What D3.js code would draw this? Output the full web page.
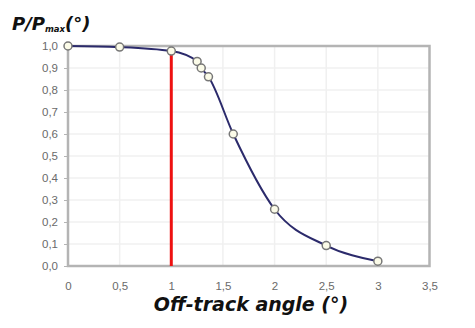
<!DOCTYPE html>
<html lang="en">
<head>
<meta charset="UTF-8">
<title>P/Pmax vs off-track angle</title>
<script src="https://d3js.org/d3.v7.min.js"></script>
<style>
    body { margin: 0; background: #fff; }
    svg { display: block; }
    .tick text { font-family: "Liberation Sans", Arial, sans-serif; font-size: 11.5px; fill: #6a6a6a; }
    .title { font-family: "DejaVu Sans", Verdana, sans-serif; font-weight: bold; font-style: italic; fill: #111; }
</style>
</head>
<body>
<svg width="475" height="328"></svg>
<script>
    var angle = [0, 0.5, 1, 1.25, 1.29, 1.36, 1.6, 2, 2.5, 3];
    var ratio = [1.0, 0.995, 0.977, 0.93, 0.90, 0.86, 0.60, 0.258, 0.093, 0.022];
    var xTicks = [0, 0.5, 1, 1.5, 2, 2.5, 3, 3.5];
    var yTicks = [0, 0.1, 0.2, 0.3, 0.4, 0.5, 0.6, 0.7, 0.8, 0.9, 1.0];
    var markAngle = 1;

    var svg = d3.select("svg");
    var x = d3.scaleLinear().domain([0, 3.5]).range([68, 429.5]);
    var y = d3.scaleLinear().domain([0, 1]).range([266, 46]);
    var fmt = function (d) { return d3.format(".1f")(d).replace(".", ","); };
    var fmtX = function (d) { return String(d).replace(".", ","); };

    // grid
    svg.append("g").selectAll("line").data(yTicks.slice(1)).enter().append("line")
        .attr("x1", x(0)).attr("x2", x(3.5))
        .attr("y1", d => y(d)).attr("y2", d => y(d))
        .attr("stroke", "#f0f0f0").attr("stroke-width", 1.5);
    svg.append("g").selectAll("line").data(xTicks.slice(1)).enter().append("line")
        .attr("x1", d => x(d)).attr("x2", d => x(d))
        .attr("y1", y(0)).attr("y2", y(1))
        .attr("stroke", "#f0f0f0").attr("stroke-width", 1.5);

    // frame
    svg.append("rect")
        .attr("x", x(0)).attr("y", y(1))
        .attr("width", x(3.5) - x(0)).attr("height", y(0) - y(1))
        .attr("fill", "none").attr("stroke", "#b4b4b4").attr("stroke-width", 2.5);

    // axes
    var yAxis = d3.axisLeft(y).tickValues(yTicks).tickFormat(fmt).tickSize(4).tickPadding(6);
    var xAxis = d3.axisBottom(x).tickValues(xTicks).tickFormat(fmtX).tickSize(0).tickPadding(16);
    var gy = svg.append("g").attr("transform", "translate(" + x(0) + ",0)").call(yAxis);
    var gx = svg.append("g").attr("transform", "translate(0," + y(0) + ")").call(xAxis);
    gy.select(".domain").remove();
    gx.select(".domain").remove();
    gy.selectAll(".tick line").attr("stroke", "#b4b4b4");

    // red marker line
    svg.append("line")
        .attr("x1", x(markAngle)).attr("x2", x(markAngle))
        .attr("y1", y(0)).attr("y2", y(ratio[angle.indexOf(markAngle)]))
        .attr("stroke", "#ee1111").attr("stroke-width", 3);

    // curve
    var pts = angle.map((a, i) => [a, ratio[i]]);
    var line = d3.line().x(d => x(d[0])).y(d => y(d[1])).curve(d3.curveMonotoneX);
    svg.append("path").datum(pts).attr("d", line)
        .attr("fill", "none").attr("stroke", "#2b2a6b").attr("stroke-width", 2);

    svg.append("g").selectAll("circle").data(pts).enter().append("circle")
        .attr("cx", d => x(d[0])).attr("cy", d => y(d[1])).attr("r", 4)
        .attr("fill", "#fbfbe8").attr("stroke", "#777").attr("stroke-width", 1.5);

    // titles
    var yt = svg.append("text").attr("class", "title").attr("x", 12).attr("y", 30).attr("font-size", 18);
    yt.append("tspan").text("P/P");
    yt.append("tspan").attr("font-size", 8.5).attr("dy", 2).text("max");
    yt.append("tspan").attr("dy", -2).text("(°)");

    svg.append("text").attr("class", "title").attr("x", 251).attr("y", 311)
        .attr("text-anchor", "middle").attr("font-size", 19).text("Off-track angle (°)");
</script>
</body>
</html>
